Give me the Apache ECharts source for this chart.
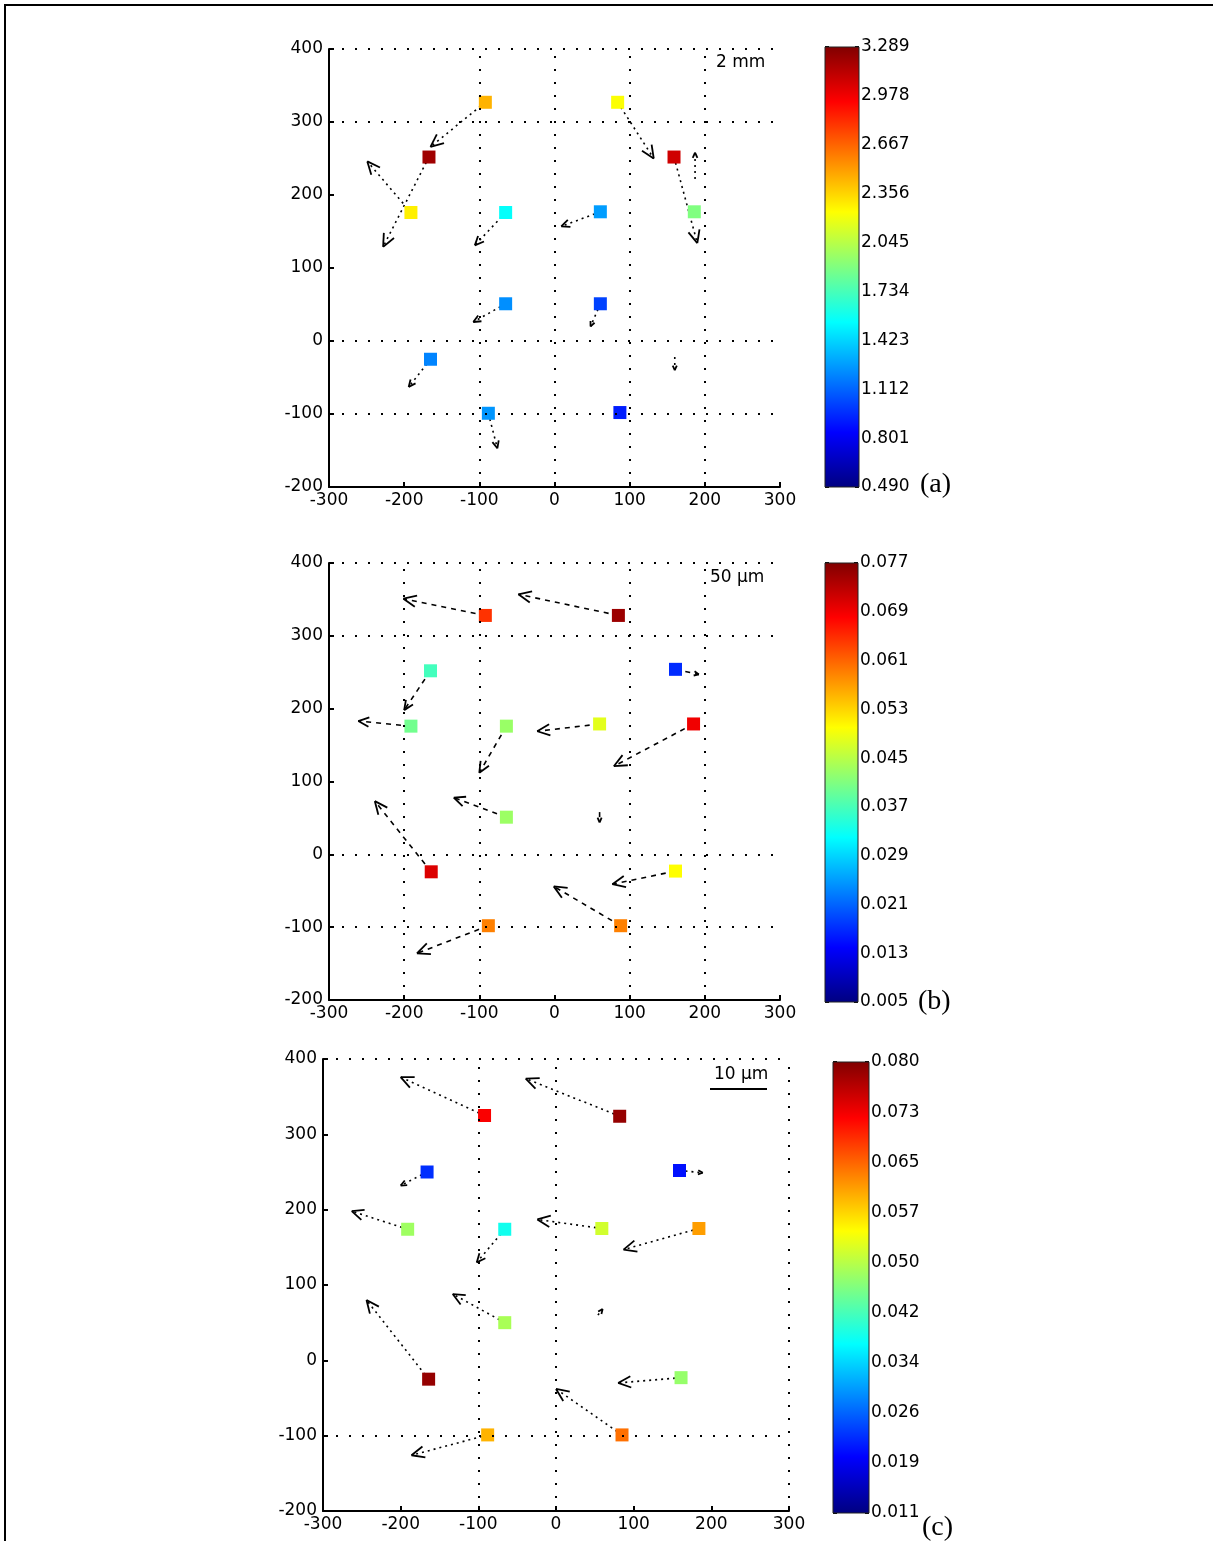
<!DOCTYPE html>
<html><head><meta charset="utf-8">
<script src="https://cdn.jsdelivr.net/npm/echarts@6/dist/echarts.min.js"></script>
<style>html,body{margin:0;padding:0;background:#fff}#c{width:1213px;height:1541px}</style>
</head><body><div id="c"></div><script>
// ---------- DATA ----------
const xTicks = [-300, -200, -100, 0, 100, 200, 300];
const yTicks = [-200, -100, 0, 100, 200, 300, 400];

// Panel (a)
const sqX_a = [-92, 84, -167, 159, -191, -65, 61, 186, -65, 61, -165, -88, 87];
const sqY_a = [327, 327, 252, 252, 176, 176, 177, 177, 51, 51, -25, -99, -98];
const val_a = [2.45, 2.23, 3.20, 3.07, 2.28, 1.55, 1.27, 1.89, 1.23, 1.02, 1.20, 1.25, 0.92];
const arX_a = [-92, -167, -191, -65, 61, 84, 159, 187, -65, 61, -165, -88, 160];
const arY_a = [327, 252, 176, 176, 177, 327, 252, 222, 51, 51, -25, -99, -22];
const arU_a = [-73, -61, -58, -41, -52, 48, 31, 0, -43, -13, -29, 12, 0];
const arV_a = [-61, -123, 70, -45, -20, -77, -118, 36, -25, -31, -38, -48, -18];
const cbLabels_a = ['0.490','0.801','1.112','1.423','1.734','2.045','2.356','2.667','2.978','3.289'];
const range_a = [0.490, 3.289];
const gridVX_a = [-100, 0, 100, 200];
const gridHY_a = [400, 300, 0, -100];

// Panel (b)
const sqX_b = [-92, 85, -165, 161, -191, -64, 60, 185, -64, -164, 161, -88, 88];
const sqY_b = [328, 328, 252, 254, 176, 176, 179, 179, 51, -24, -23, -98, -98];
const val_b = [0.0645, 0.075, 0.0367, 0.017, 0.040, 0.0428, 0.048, 0.069, 0.043, 0.0705, 0.050, 0.059, 0.059];
const arX_b = [-92, 85, -165, 161, -191, -64, 60, 185, -64, -164, 161, -88, 88, 60];
const arY_b = [328, 328, 252, 254, 176, 176, 179, 179, 51, -24, -23, -98, -98, 58];
const arU_b = [-109, -133, -35, 31, -70, -36, -83, -106, -70, -75, -84, -95, -89, 0];
const arV_b = [23, 29, -54, -7, 7, -64, -10, -58, 27, 97, -18, -38, 54, -14];
const cbLabels_b = ['0.005','0.013','0.021','0.029','0.037','0.045','0.053','0.061','0.069','0.077'];
const range_b = [0.005, 0.077];
const gridVX_b = [-200, -100, 100, 200];
const gridHY_b = [400, 300, 0, -100];

// Panel (c)
const sqX_c = [-92, 82, -166, 159, -191, -66, 59, 184, -66, -164, 161, -88, 85];
const sqY_c = [325, 324, 250, 252, 174, 174, 175, 175, 50, -25, -23, -99, -99];
const val_c = [0.0717, 0.0786, 0.0227, 0.0207, 0.0476, 0.038, 0.051, 0.0607, 0.0483, 0.0786, 0.047, 0.0593, 0.0638];
const arX_c = [-92, 82, -166, 159, -191, -66, 59, 184, -66, -164, 161, -88, 85, 54];
const arY_c = [325, 324, 250, 252, 174, 174, 175, 175, 50, -25, -23, -99, -99, 60];
const arU_c = [-108, -121, -34, 30, -72, -36, -83, -97, -67, -80, -81, -98, -85, 6];
const arV_c = [51, 50, -18, -3, 24, -44, 12, -28, 38, 105, -7, -27, 61, 8];
const cbLabels_c = ['0.011','0.019','0.026','0.034','0.042','0.050','0.057','0.065','0.073','0.080'];
const range_c = [0.011, 0.080];
const gridVX_c = [-100, 0, 300];
const gridHY_c = [400, -100];

// ---------- STYLE / LAYOUT ----------
const JET = ['#000080','#0000ff','#0080ff','#00ffff','#80ff80','#ffff00','#ff8000','#ff0000','#800000'];
const FONT = 'DejaVu Sans';
const FS = 17;
const panels = [
  {sqX: sqX_a, sqY: sqY_a, val: val_a, arX: arX_a, arY: arY_a, arU: arU_a, arV: arV_a, cb: cbLabels_a, range: range_a, gvx: gridVX_a, ghy: gridHY_a,
   grid: {left: 329, top: 49, width: 451, height: 438}, cbGrid: {left: 825, top: 47, width: 34, height: 440}, dash: [2, 4]},
  {sqX: sqX_b, sqY: sqY_b, val: val_b, arX: arX_b, arY: arY_b, arU: arU_b, arV: arV_b, cb: cbLabels_b, range: range_b, gvx: gridVX_b, ghy: gridHY_b,
   grid: {left: 329, top: 563, width: 451, height: 437}, cbGrid: {left: 825, top: 563, width: 33, height: 439}, dash: [5, 5]},
  {sqX: sqX_c, sqY: sqY_c, val: val_c, arX: arX_c, arY: arY_c, arU: arU_c, arV: arV_c, cb: cbLabels_c, range: range_c, gvx: gridVX_c, ghy: gridHY_c,
   grid: {left: 323, top: 1059, width: 466, height: 452}, cbGrid: {left: 833, top: 1062, width: 36, height: 451}, dash: [2, 4]}
];

function arrowRender(dash) {
  return function (params, api) {
    const x = api.value(0), y = api.value(1), u = api.value(2), v = api.value(3);
    const p0 = api.coord([x, y]), p1 = api.coord([x + u, y + v]);
    const dx = p1[0] - p0[0], dy = p1[1] - p0[1];
    const len = Math.hypot(dx, dy);
    const children = [{type: 'line', shape: {x1: p0[0], y1: p0[1], x2: p1[0], y2: p1[1]},
      style: {stroke: '#000', lineWidth: 1.6, lineDash: dash}}];
    if (len > 0) {
      const hl = Math.max(5, Math.min(14, 0.22 * len));
      const ang = Math.atan2(dy, dx);
      [ang + Math.PI - 0.42, ang + Math.PI + 0.42].forEach(t => children.push({
        type: 'line', shape: {x1: p1[0], y1: p1[1], x2: p1[0] + hl * Math.cos(t), y2: p1[1] + hl * Math.sin(t)},
        style: {stroke: '#000', lineWidth: 1.8}}));
    }
    return {type: 'group', children};
  };
}

const grids = [], xAxes = [], yAxes = [], series = [], visualMaps = [];
panels.forEach((p, i) => {
  grids.push(Object.assign({containLabel: false}, p.grid));
  xAxes.push({gridIndex: i, type: 'value', min: xTicks[0], max: xTicks[xTicks.length - 1], interval: 100,
    axisLine: {onZero: false, lineStyle: {color: '#000', width: 2}}, axisTick: {inside: true, length: 5, lineStyle: {color: '#000', width: 2}},
    splitLine: {show: false}, axisLabel: {color: '#000', fontFamily: FONT, fontSize: FS, margin: 5}});
  yAxes.push({gridIndex: i, type: 'value', min: yTicks[0], max: yTicks[yTicks.length - 1], interval: 100,
    axisLine: {show: true, onZero: false, lineStyle: {color: '#000', width: 2}}, axisTick: {show: true, inside: true, length: 5, lineStyle: {color: '#000', width: 2}},
    splitLine: {show: false}, axisLabel: {color: '#000', fontFamily: FONT, fontSize: FS, margin: 6}});
});
// colorbar axes
panels.forEach((p, i) => {
  grids.push(p.cbGrid);
  xAxes.push({gridIndex: 3 + i, type: 'value', min: 0, max: 1, show: false});
  yAxes.push({gridIndex: 3 + i, type: 'value', min: 0, max: 9, interval: 1, position: 'left',
    axisLine: {show: false}, axisTick: {show: true, inside: true, length: 4, lineStyle: {color: '#000', width: 2}},
    axisLabel: {show: false}, splitLine: {show: false}});
  yAxes.push({gridIndex: 3 + i, type: 'value', min: 0, max: 9, interval: 1, position: 'right',
    axisLine: {show: false}, axisTick: {show: true, inside: true, length: 4, lineStyle: {color: '#000', width: 2}},
    axisLabel: {color: '#000', fontFamily: FONT, fontSize: FS, margin: 2, formatter: v => p.cb[Math.round(v)]},
    splitLine: {show: false}});
});

panels.forEach((p, i) => {
  // dotted grid lines
  series.push({type: 'line', xAxisIndex: i, yAxisIndex: i, data: [], z: 1, silent: true,
    markLine: {silent: true, symbol: ['none', 'none'], label: {show: false},
      lineStyle: {color: '#000', type: [2, 11], width: 2},
      data: p.gvx.map(v => ({xAxis: v})).concat(p.ghy.map(v => ({yAxis: v})))}});
  // arrows
  series.push({type: 'custom', xAxisIndex: i, yAxisIndex: i, z: 2, silent: true,
    renderItem: arrowRender(p.dash),
    data: p.arX.map((x, k) => [x, p.arY[k], p.arU[k], p.arV[k]])});
  // squares
  series.push({type: 'scatter', xAxisIndex: i, yAxisIndex: i, z: 3, symbol: 'rect', symbolSize: 13,
    itemStyle: {opacity: 1}, emphasis: {disabled: true},
    data: p.sqX.map((x, k) => [x, p.sqY[k], p.val[k]])});
  visualMaps.push({type: 'continuous', show: false, min: p.range[0], max: p.range[1], dimension: 2,
    seriesIndex: series.length - 1, inRange: {color: JET}});
});
// colorbars
panels.forEach((p, i) => {
  series.push({type: 'custom', xAxisIndex: 3 + i, yAxisIndex: 3 + 2 * i, z: 1, silent: true, data: [[0]],
    renderItem: (params, api) => {
      const tl = api.coord([0, 9]), br = api.coord([1, 0]);
      const stops = JET.map((c, k) => ({offset: k / (JET.length - 1), color: c}));
      return {type: 'rect', shape: {x: tl[0], y: tl[1], width: br[0] - tl[0], height: br[1] - tl[1]},
        style: {fill: new echarts.graphic.LinearGradient(0, 1, 0, 0, stops), stroke: '#222', lineWidth: 1}};
    }});
});

const graphic = [
  {type: 'line', shape: {x1: 4, y1: 5, x2: 1213, y2: 5}, style: {stroke: '#000', lineWidth: 2}},
  {type: 'line', shape: {x1: 5, y1: 4, x2: 5, y2: 1541}, style: {stroke: '#000', lineWidth: 2}},
  {type: 'text', left: 920, top: 471, style: {text: '(a)', font: '28px "Liberation Serif"', fill: '#000'}},
  {type: 'text', left: 918, top: 988, style: {text: '(b)', font: '28px "Liberation Serif"', fill: '#000'}},
  {type: 'text', left: 922, top: 1514, style: {text: '(c)', font: '28px "Liberation Serif"', fill: '#000'}},
  {type: 'text', left: 716, top: 54, style: {text: '2 mm', font: '17px "DejaVu Sans"', fill: '#000'}},
  {type: 'text', left: 710, top: 569, style: {text: '50 μm', font: '17px "DejaVu Sans"', fill: '#000'}},
  {type: 'text', left: 714, top: 1066, style: {text: '10 μm', font: '17px "DejaVu Sans"', fill: '#000'}},
  {type: 'line', shape: {x1: 710, y1: 1089, x2: 767, y2: 1089}, style: {stroke: '#000', lineWidth: 2}}
];

const chart = echarts.init(document.getElementById('c'), null, {renderer: 'canvas'});
chart.setOption({animation: false, backgroundColor: '#fff', grid: grids, xAxis: xAxes, yAxis: yAxes,
  visualMap: visualMaps, series, graphic});
</script></body></html>
